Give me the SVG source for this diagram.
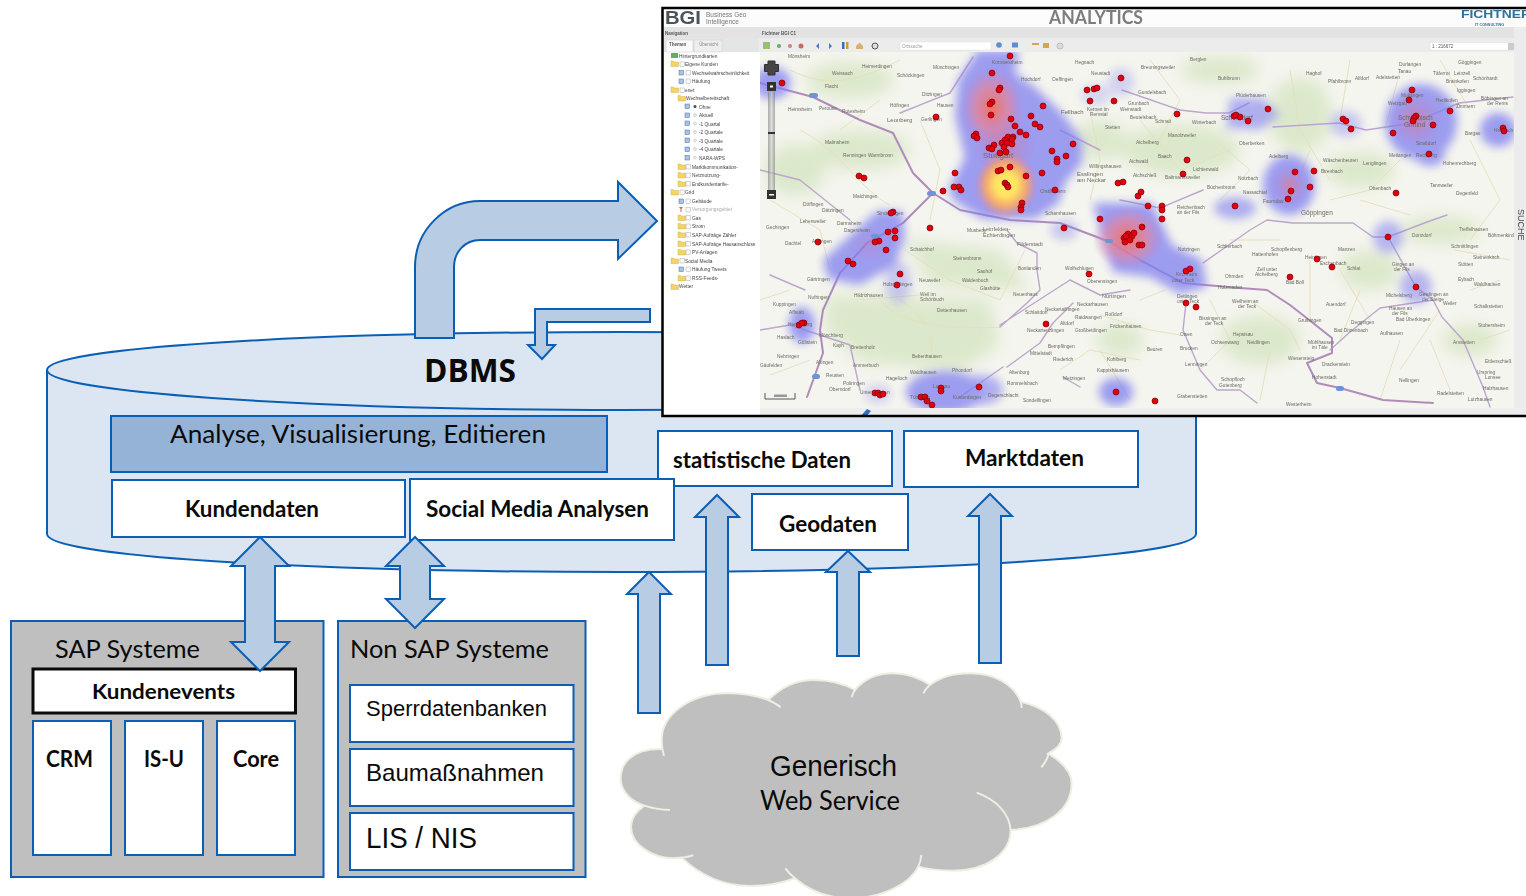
<svg xmlns="http://www.w3.org/2000/svg" xmlns:xlink="http://www.w3.org/1999/xlink" width="1526" height="896" viewBox="0 0 1526 896">
<style>
.box{fill:#fff;stroke:#0a5fb4;stroke-width:2}
.sys{fill:#bfbfbf;stroke:#0a5fb4;stroke-width:2}
.arrow{fill:#b8cce4;stroke:#0a5fb4;stroke-width:2;stroke-linejoin:miter}
.cal{font-family:Lato,"Open Sans",sans-serif;fill:#0a0a0a}
.b{font-weight:700}
.ar{font-family:"Liberation Sans",Arial,sans-serif;fill:#0a0a0a}
.t{font-family:"Liberation Sans",Arial,sans-serif;font-size:4.8px;fill:#444}
.p{font-family:"Liberation Sans",Arial,sans-serif;font-size:4.8px;fill:#6a6a62}
.ui{font-family:"Liberation Sans",Arial,sans-serif;fill:#555}
.road{fill:none;stroke:#bca6cc;stroke-width:1.400;stroke-linecap:round;stroke-linejoin:round}
.mr{fill:none;stroke:#b08cba;stroke-width:2;stroke-linecap:round;stroke-linejoin:round}
.tan{fill:none;stroke:#e6deba;stroke-width:.9}
.dots circle{fill:#e2000f;stroke:#7a0010;stroke-width:.7}
.bl{fill:#7f7ff0}
.cl{fill:none;stroke:#efeee3;stroke-width:6}
</style>
<defs>
<clipPath id="mapclip"><rect x="760" y="52" width="754" height="356"/></clipPath>
<clipPath id="shot"><rect x="662" y="8" width="864" height="408"/></clipPath>
<filter id="b5" x="700" y="0" width="850" height="450" filterUnits="userSpaceOnUse"><feGaussianBlur stdDeviation="5"/></filter>
<filter id="b10" x="700" y="0" width="850" height="450" filterUnits="userSpaceOnUse"><feGaussianBlur stdDeviation="8"/></filter>
<filter id="soft" x="660" y="0" width="880" height="430" filterUnits="userSpaceOnUse"><feGaussianBlur stdDeviation="0.35"/></filter>
<radialGradient id="red"><stop offset="0" stop-color="#ff6a4a" stop-opacity=".85"/><stop offset=".55" stop-color="#f08090" stop-opacity=".6"/><stop offset="1" stop-color="#c080c8" stop-opacity="0"/></radialGradient>
<radialGradient id="pink"><stop offset="0" stop-color="#e07a90" stop-opacity=".7"/><stop offset="1" stop-color="#b080d0" stop-opacity="0"/></radialGradient>
<radialGradient id="hot"><stop offset="0" stop-color="#fff36a"/><stop offset=".35" stop-color="#ffe060"/><stop offset=".65" stop-color="#ffa860" stop-opacity=".85"/><stop offset="1" stop-color="#e08098" stop-opacity="0"/></radialGradient>
<linearGradient id="bar" x1="0" y1="0" x2="1" y2="0"><stop offset="0" stop-color="#777"/><stop offset=".5" stop-color="#ccc"/><stop offset="1" stop-color="#777"/></linearGradient>
<g id="fo"><path d="M0 1h2.500l1 1h4v4.500h-7.500z" fill="#f2d469" stroke="#c9a83c" stroke-width=".4"/></g>
<g id="cb"><rect width="4.500" height="4.500" fill="#fafafa" stroke="#999" stroke-width=".4"/></g>
<g id="ic"><rect width="4.500" height="4.500" fill="#a9c2e6" stroke="#4a6fa8" stroke-width=".5"/></g>
</defs>

<g id="dbms">
<path d="M47 370C47 348 304 332 621 332S1196 348 1196 370V534C1196 556 940 572 621 572S47 556 47 534Z" fill="#dce6f2" stroke="#0a5fb4" stroke-width="2"/>
<path d="M47 370C47 392 304 410 621 410S1196 392 1196 370" fill="none" stroke="#0a5fb4" stroke-width="2"/>
<text class="ar b" x="424" y="382" font-size="33" style="font-family:'Open Sans',sans-serif" textLength="92" lengthAdjust="spacingAndGlyphs">DBMS</text>
</g>

<g id="analyse"><rect x="111" y="416" width="496" height="56" fill="#95b3d7" stroke="#0a5fb4" stroke-width="2"/><text class="cal" x="170" y="443" font-size="25" textLength="376" lengthAdjust="spacingAndGlyphs">Analyse, Visualisierung, Editieren</text></g>
<g id="statistische-daten"><rect class="box" x="658" y="431" width="234" height="55"/><text class="cal b" x="673" y="468" font-size="22" textLength="178" lengthAdjust="spacingAndGlyphs">statistische Daten</text></g>
<g id="kundendaten"><rect class="box" x="112" y="480" width="293" height="57"/><text class="cal b" x="185" y="517" font-size="22" textLength="134" lengthAdjust="spacingAndGlyphs">Kundendaten</text></g>
<g id="social-media"><rect class="box" x="410" y="479" width="264" height="61"/><text class="cal b" x="426" y="517" font-size="22" textLength="223" lengthAdjust="spacingAndGlyphs">Social Media Analysen</text></g>
<g id="marktdaten"><rect class="box" x="904" y="431" width="234" height="56"/><text class="cal b" x="965" y="466" font-size="22" textLength="119" lengthAdjust="spacingAndGlyphs">Marktdaten</text></g>
<g id="geodaten"><rect class="box" x="752" y="494" width="156" height="56"/><text class="cal b" x="779" y="532" font-size="22" textLength="98" lengthAdjust="spacingAndGlyphs">Geodaten</text></g>

<g id="sap-systeme"><rect class="sys" x="11" y="621" width="312.500" height="256"/><text class="cal" x="55" y="658" font-size="25" textLength="145" lengthAdjust="spacingAndGlyphs">SAP Systeme</text></g>
<g id="kundenevents"><rect x="33" y="669" width="262.500" height="44" fill="#fff" stroke="#0a0a0a" stroke-width="3"/><text class="cal b" x="92" y="699" font-size="21" textLength="143" lengthAdjust="spacingAndGlyphs">Kundenevents</text></g>
<g id="crm"><rect class="box" x="33" y="721" width="78" height="134"/><text class="cal b" x="46" y="767" font-size="22" textLength="47" lengthAdjust="spacingAndGlyphs">CRM</text></g>
<g id="is-u"><rect class="box" x="125" y="721" width="78" height="134"/><text class="cal b" x="144" y="767" font-size="22" textLength="40" lengthAdjust="spacingAndGlyphs">IS-U</text></g>
<g id="core"><rect class="box" x="217" y="721" width="78" height="134"/><text class="cal b" x="233" y="767" font-size="22" textLength="46" lengthAdjust="spacingAndGlyphs">Core</text></g>

<g id="non-sap-systeme"><rect class="sys" x="338" y="621" width="247.500" height="256"/><text class="cal" x="350" y="658" font-size="25" textLength="199" lengthAdjust="spacingAndGlyphs">Non SAP Systeme</text></g>
<g id="sperrdatenbanken"><rect class="box" x="350" y="685" width="223.500" height="57"/><text class="ar" x="366" y="716" font-size="22.500" textLength="181" lengthAdjust="spacingAndGlyphs">Sperrdatenbanken</text></g>
<g id="baumassnahmen"><rect class="box" x="350" y="749" width="223.500" height="57"/><text class="ar" x="366" y="781" font-size="24" textLength="178" lengthAdjust="spacingAndGlyphs">Baumaßnahmen</text></g>
<g id="lis-nis"><rect class="box" x="350" y="813" width="223.500" height="57"/><text class="ar" x="366" y="848" font-size="29" textLength="111" lengthAdjust="spacingAndGlyphs">LIS / NIS</text></g>

<g id="generisch-web-service">
<g transform="translate(600 640) scale(.3333)">
<path d="M187 327C90 325 62 375 62 415C62 455 95 485 133 497C100 520 93 540 93 560C93 615 160 655 220 655L245 653C300 705 370 738 450 738C500 738 545 730 585 715C625 750 680 775 750 775C850 775 930 730 955 680C985 688 1020 692 1060 692C1160 692 1232 640 1232 570C1340 565 1415 510 1415 430C1415 395 1385 365 1345 340C1375 325 1385 310 1385 295C1385 240 1330 200 1262 185C1240 130 1180 100 1110 100C1060 100 1020 112 990 135C955 112 920 100 880 100C830 100 790 120 765 150C730 130 690 120 640 120C585 120 540 145 505 180C465 165 425 160 380 160C270 160 185 225 185 300Z" fill="#bfbfbf" stroke="#efeee3" stroke-width="6"/>
<path class="cl" d="M133 497C158 505 185 510 210 510M245 653C255 652 268 650 280 646M585 715C575 707 565 697 556 685M955 680C960 670 963 658 964 645M1232 570C1228 520 1190 480 1130 458M1345 340C1345 350 1338 365 1324 382M1262 185C1264 190 1265 197 1265 204M990 135C980 142 975 150 970 160M765 150C760 157 757 165 755 172M505 180C520 187 532 193 542 202M187 327L192 347"/>
</g>
<text class="ar" x="770" y="776" font-size="29" textLength="127" lengthAdjust="spacingAndGlyphs">Generisch</text>
<text class="cal" x="760" y="810" font-size="26" textLength="140" lengthAdjust="spacingAndGlyphs">Web Service</text>
</g>

<g id="analytics-screenshot" clip-path="url(#shot)">
<rect x="662" y="8" width="866" height="408" fill="#fff"/>
<g filter="url(#soft)">
<rect x="664" y="9" width="862" height="18" fill="#fbfcfb"/>
<rect x="664" y="27" width="862" height="11" fill="#e2e3e2"/>
<rect x="759" y="38" width="767" height="14" fill="#ececec"/>
<rect x="664" y="38" width="95" height="14" fill="#e4e6e6"/>
<rect x="666" y="40" width="27" height="12" fill="#fafafa" stroke="#ccc" stroke-width=".5"/>
<rect x="694" y="40" width="28" height="12" fill="#eee" stroke="#ccc" stroke-width=".5"/>
<rect x="1514" y="27" width="12" height="381" fill="#ececec"/>
<rect x="760" y="408" width="766" height="7" fill="#ededed"/>
<rect x="664" y="408" width="96" height="7" fill="#fff"/>

<text class="ui" x="665" y="24" font-size="19" font-weight="700" textLength="36" lengthAdjust="spacingAndGlyphs" style="fill:#4c5358">BGI</text>
<text class="ui" x="706" y="17" font-size="6.500" style="fill:#777">Business Geo</text>
<text class="ui" x="706" y="24" font-size="6.500" style="fill:#777">Intelligence</text>
<text class="ui" x="1049" y="24" font-size="18" font-weight="700" textLength="94" lengthAdjust="spacingAndGlyphs" style="fill:#7d7d7d;font-family:Lato,sans-serif">ANALYTICS</text>
<text class="ui" x="1461" y="18" font-size="11" font-weight="700" textLength="70" lengthAdjust="spacingAndGlyphs" style="fill:#2f7299">FICHTNER</text>
<text class="ui" x="1475" y="26" font-size="3.800" font-weight="700" style="fill:#2f7299">IT CONSULTING</text>
<text class="ui" x="665" y="35" font-size="4.500" font-weight="700">Navigation</text>
<text class="ui" x="762" y="35" font-size="4.500" font-weight="700">Fichtner BGI C1</text>
<text class="ui" x="669" y="46" font-size="4.500" font-weight="700">Themen</text>
<text class="ui" x="699" y="46" font-size="4.500" style="fill:#888">Übersicht</text>
<rect x="900" y="42" width="91" height="8" fill="#fff" stroke="#ddd" stroke-width=".5"/>
<text class="ui" x="902" y="48" font-size="4.500" style="fill:#999">Ortssuche</text>
<rect x="1430" y="42.500" width="84" height="7.500" fill="#fff" stroke="#ddd" stroke-width=".5"/>
<text class="ui" x="1432" y="48" font-size="4.500">1 : 216672</text>
<rect x="1508" y="43" width="6" height="7" fill="#ccc"/>
<g id="toolbar">
<rect x="763" y="42" width="7" height="7" fill="#9ac06a"/><circle cx="779" cy="46" r="2" fill="#6aa86a"/><circle cx="790" cy="46" r="2" fill="#d08080"/><circle cx="801" cy="46" r="2.500" fill="#c86a6a"/>
<path d="M816 46l3-3v6zM829 43l3 3-3 3z" fill="#4a7ac8"/>
<rect x="842" y="42" width="2.500" height="7" fill="#3a70b8"/><rect x="846" y="42" width="2.500" height="7" fill="#d0a020"/>
<path d="M856 46l3.500-3.500 3.500 3.500v3h-7z" fill="#d8b070"/><circle cx="875" cy="46" r="3" fill="#ddd" stroke="#555"/>
<circle cx="999" cy="45" r="2.800" fill="#5a90d0"/><rect x="1012" y="42.500" width="6" height="5" fill="#5a90d0"/><path d="M1032 43h7v2h-7zM1043 43h6v5h-6z" fill="#e0a050"/><circle cx="1060" cy="46" r="3" fill="#ddd" stroke="#999" stroke-width=".5"/>
</g>

<g id="tree">
<text class="t" x="679" y="58">Hintergrundkarten</text>
<text class="t" x="685" y="66">Eigene Kunden</text>
<text class="t" x="692" y="75">Wechselwahrscheinlichkeit</text>
<text class="t" x="692" y="83">Häufung</text>
<text class="t" x="685" y="92">enet</text>
<text class="t" x="686" y="100">Wechselbereitschaft</text>
<text class="t" x="699" y="108.500">Ohne</text>
<text class="t" x="699" y="117">Aktuell</text>
<text class="t" x="699" y="125.500">-1 Quartal</text>
<text class="t" x="699" y="134">-2 Quartale</text>
<text class="t" x="699" y="142.500">-3 Quartale</text>
<text class="t" x="699" y="151">-4 Quartale</text>
<text class="t" x="699" y="159.500">NARA-WPS</text>
<text class="t" x="692" y="168.500">Marktkommunikation-</text>
<text class="t" x="692" y="177">Netznutzung-</text>
<text class="t" x="692" y="185.500">Endkundentarife-</text>
<text class="t" x="685" y="194">Grid</text>
<text class="t" x="692" y="203">Gebäude</text>
<text class="t" x="692" y="211" style="fill:#aaa">Versorgungsgebiet</text>
<text class="t" x="692" y="220">Gas</text>
<text class="t" x="692" y="228">Strom</text>
<text class="t" x="692" y="237">SAP-Aufträge Zähler</text>
<text class="t" x="692" y="245.500">SAP-Aufträge Hausanschluss</text>
<text class="t" x="692" y="254">PV-Anlagen</text>
<text class="t" x="685" y="263">Social Media</text>
<text class="t" x="692" y="271">Häufung Tweets</text>
<text class="t" x="692" y="280">RSS-Feeds-</text>
<text class="t" x="679" y="288">Wetter</text>
<rect x="671" y="53" width="7" height="5" fill="#6aa86a"/>
<use href="#fo" x="671" y="60"/><use href="#cb" x="680" y="62"/><use href="#ic" x="679" y="70.500"/><use href="#cb" x="686" y="70.500"/><use href="#ic" x="679" y="79"/><use href="#cb" x="686" y="79"/>
<use href="#fo" x="671" y="86"/><use href="#cb" x="680" y="88"/><use href="#fo" x="678" y="94.500"/>
<use href="#ic" x="685" y="104"/><use href="#ic" x="685" y="113"/><use href="#ic" x="685" y="121"/><use href="#ic" x="685" y="130"/><use href="#ic" x="685" y="138"/><use href="#ic" x="685" y="147"/><use href="#ic" x="685" y="155.500"/>
<circle cx="695" cy="106.500" r="1.500" fill="#446"/><circle cx="695" cy="115" r="1.500" fill="#eee" stroke="#aaa" stroke-width=".4"/><circle cx="695" cy="123.500" r="1.500" fill="#eee" stroke="#aaa" stroke-width=".4"/><circle cx="695" cy="132" r="1.500" fill="#eee" stroke="#aaa" stroke-width=".4"/><circle cx="695" cy="140.500" r="1.500" fill="#eee" stroke="#aaa" stroke-width=".4"/><circle cx="695" cy="149" r="1.500" fill="#eee" stroke="#aaa" stroke-width=".4"/><circle cx="695" cy="157.500" r="1.500" fill="#eee" stroke="#aaa" stroke-width=".4"/>
<use href="#fo" x="678" y="163"/><use href="#cb" x="686" y="164.500"/><use href="#fo" x="678" y="171.500"/><use href="#cb" x="686" y="173"/><use href="#fo" x="678" y="180"/><use href="#cb" x="686" y="181.500"/>
<use href="#fo" x="671" y="188.500"/><use href="#cb" x="680" y="190"/><use href="#ic" x="679" y="199"/><use href="#cb" x="686" y="199"/><path d="M679 207h4l-1.500 2v3h-1v-3z" fill="#c86a6a"/><use href="#cb" x="686" y="207.500"/>
<use href="#fo" x="678" y="214"/><use href="#cb" x="686" y="215.500"/><use href="#fo" x="678" y="222.500"/><use href="#cb" x="686" y="224"/><use href="#fo" x="678" y="231"/><use href="#cb" x="686" y="232.500"/><use href="#fo" x="678" y="240"/><use href="#cb" x="686" y="241.500"/><use href="#fo" x="678" y="248.500"/><use href="#cb" x="686" y="250"/>
<use href="#fo" x="671" y="257"/><use href="#cb" x="680" y="258.500"/><use href="#ic" x="679" y="267"/><use href="#cb" x="686" y="267"/><use href="#fo" x="678" y="274.500"/><use href="#cb" x="686" y="276"/><use href="#fo" x="671" y="283"/>
</g>

<g id="map" clip-path="url(#mapclip)">
<rect x="760" y="52" width="754" height="356" fill="#f5f5ef"/>
<g filter="url(#b10)" fill="#dce8cb">
<path d="M825 295L990 300L1000 345L960 372L860 362L825 330Z"/>
<path d="M905 240L1000 250L1030 290L930 285Z"/><ellipse cx="860" cy="150" rx="50" ry="20"/><ellipse cx="795" cy="170" rx="30" ry="26"/><ellipse cx="1180" cy="150" rx="60" ry="26"/><ellipse cx="1300" cy="115" rx="32" ry="38"/><ellipse cx="1360" cy="170" rx="35" ry="18"/><ellipse cx="1260" cy="340" rx="40" ry="25"/><ellipse cx="1370" cy="270" rx="30" ry="20"/><ellipse cx="1120" cy="340" rx="24" ry="16"/><ellipse cx="1470" cy="340" rx="28" ry="16"/>
<ellipse cx="1440" cy="230" rx="40" ry="14"/><ellipse cx="1100" cy="140" rx="26" ry="20"/><ellipse cx="850" cy="80" rx="44" ry="18"/><ellipse cx="1220" cy="70" rx="40" ry="14"/>
</g>
<path class="tan" d="M790 70C830 90 860 80 900 60M800 130C840 150 860 190 890 205M770 200L820 230L830 270M920 120L940 170L930 220M905 250L950 280L1000 300L1025 250M1000 327C950 330 900 325 880 300M1090 110L1100 160L1090 200M1140 120L1180 170L1230 150M1290 70L1300 130L1330 180M1350 60L1340 120M1400 70L1385 130M1440 60L1470 110M1310 150L1290 200M1210 300L1230 340L1200 370M1250 300L1290 330L1300 350M1310 260L1310 320M1340 270L1370 320M1400 340L1380 400M1440 310L1400 370M1470 290L1500 280M860 300L920 295M900 300C930 320 935 340 930 360M1100 315L1150 330L1180 335M1060 370L1090 350L1140 360M1455 250L1510 260M1480 340L1510 330M1360 200L1410 215M1140 300L1165 290M1150 60L1180 100L1160 140M1215 140L1250 170L1220 200M1330 200L1370 190L1400 160M1470 140L1500 200L1470 240M1230 240L1280 240M1360 290L1340 340M1100 350L1130 400M1270 350L1260 400M1430 340L1450 390M840 130L880 100M790 290L760 300M770 375L810 360"/>
<path class="road" d="M900 113L950 93L973 57M1007 230L1017 243L1037 253L1037 270L1040 290L1027 303L1000 327M1003 367L960 397M1073 303L1053 323L1040 343L1007 367M1063 377L1080 387M1122 90L1180 110L1206 113L1229 113L1249 103M1273 127L1339 123L1366 130L1413 123L1459 103L1513 97M1203 263L1250 230L1267 220L1293 223L1353 223L1373 237L1388 237L1427 222L1447 215M1388 237L1416 287L1433 300M1186 303L1183 330L1200 370L1217 390L1240 390L1257 403M1060 130L1100 150M1330 350L1350 332L1380 308L1433 300L1442 317L1463 340L1483 387L1490 407M1120 200L1160 208L1203 190M850 220L800 180L760 170M760 330L790 325L820 335L850 345L860 390M770 275L805 290M1000 325L1070 280L1100 295L1130 290"/>
<path class="mr" d="M760 83L813 97L860 120L893 133L913 173L933 193L960 210L1010 220L1060 223L1110 242L1140 260L1183 283L1240 288L1267 290L1290 305L1313 323L1332 338L1332 353L1307 363L1317 383L1340 388L1383 400L1433 403M933 193L903 223L867 243L840 273L823 310L820 330L823 353L807 397"/>
<g filter="url(#b5)" opacity=".75">
<path class="bl" d="M978 50L1019 50L1015 73L1035 87L1062 113L1082 140L1082 163L1065 183L1059 203L1035 219L983 219L955 202L948 190L965 157L955 117L958 80Z"/>
<path class="bl" d="M823 260L877 211L902 211L905 237L895 265L860 285L828 279Z"/>
<ellipse class="bl" cx="772" cy="83" rx="19" ry="16"/>
<ellipse class="bl" cx="898" cy="282" rx="13" ry="21" opacity=".5"/>
<ellipse class="bl" cx="802" cy="325" rx="13" ry="18"/>
<ellipse class="bl" cx="878" cy="394" rx="13" ry="10" opacity=".4"/>
<ellipse class="bl" cx="945" cy="392" rx="39" ry="21"/><ellipse class="bl" cx="982" cy="390" rx="21" ry="15" opacity=".8"/>
<ellipse class="bl" cx="1116" cy="392" rx="17" ry="14"/>
<path class="bl" d="M1093 203L1152 203L1172 245L1202 260L1207 287L1180 294L1150 277L1113 272Z"/>
<ellipse class="bl" cx="1388" cy="237" rx="15" ry="16" opacity=".7"/><ellipse class="bl" cx="1416" cy="287" rx="16" ry="17" opacity=".7"/>
<path class="bl" d="M1230 98L1262 98L1280 115L1260 130L1226 128Z" opacity=".8"/>
<ellipse class="bl" cx="1346" cy="124" rx="16" ry="13" opacity=".5"/>
<ellipse class="bl" cx="1421" cy="122" rx="36" ry="38"/><ellipse class="bl" cx="1430" cy="155" rx="15" ry="11"/>
<ellipse class="bl" cx="1289" cy="185" rx="26" ry="30"/>
<ellipse class="bl" cx="1235" cy="208" rx="21" ry="11" opacity=".8"/>
<ellipse class="bl" cx="1498" cy="130" rx="18" ry="17"/>
<ellipse class="bl" cx="1064" cy="230" rx="14" ry="10" opacity=".5"/>
<ellipse class="bl" cx="1121" cy="82" rx="13" ry="14" opacity=".4"/>
<ellipse class="bl" cx="1096" cy="95" rx="15" ry="11" opacity=".35"/>
</g>
<ellipse cx="992" cy="108" rx="32" ry="42" fill="url(#red)"/>
<ellipse cx="1005" cy="145" rx="32" ry="30" fill="url(#pink)"/>
<ellipse cx="1006" cy="185" rx="32" ry="34" fill="url(#hot)"/>
<ellipse cx="1128" cy="238" rx="36" ry="32" fill="url(#red)"/>
<ellipse cx="1416" cy="120" rx="27" ry="27" fill="url(#pink)"/>
<ellipse cx="1290" cy="185" rx="19" ry="21" fill="url(#pink)"/>
<ellipse cx="870" cy="245" rx="22" ry="18" fill="url(#pink)" opacity=".4"/>

<g id="places">
<text class="p" x="788" y="58">Mönsheim</text><text class="p" x="862" y="68">Heimerdingen</text><text class="p" x="832" y="75">Weissach</text><text class="p" x="897" y="77">Schöckingen</text><text class="p" x="825" y="88">Flacht</text><text class="p" x="922" y="96">Ditzingen</text><text class="p" x="890" y="107">Höfingen</text><text class="p" x="937" y="107">Hausen</text><text class="p" x="788" y="111">Heimsheim</text><text class="p" x="819" y="110">Perouse</text><text class="p" x="842" y="113">Rutesheim</text><text class="p" x="887" y="122" style="font-size:6px">Leonberg</text><text class="p" x="921" y="121">Gerlingen</text><text class="p" x="868" y="157">Warmbronn</text><text class="p" x="843" y="157">Renningen</text><text class="p" x="825" y="144">Malmsheim</text><text class="p" x="853" y="198">Maichingen</text><text class="p" x="877" y="215">Sindelfingen</text><text class="p" x="803" y="206">Döffingen</text><text class="p" x="822" y="212">Dätzingen</text><text class="p" x="800" y="223">Lehenweiler</text><text class="p" x="766" y="229">Gechingen</text><text class="p" x="837" y="225">Darmsheim</text><text class="p" x="844" y="232">Dagersheim</text><text class="p" x="785" y="245">Dachtel</text><text class="p" x="812" y="243">Aidlingen</text><text class="p" x="807" y="281">Gärtringen</text><text class="p" x="808" y="299">Nufringen</text><text class="p" x="854" y="297">Hildrizhausen</text><text class="p" x="883" y="286">Holzgerlingen</text>
<text class="p" x="992" y="64">Kornwestheim</text><text class="p" x="1021" y="81">Hochdorf</text><text class="p" x="1052" y="81">Oeffingen</text><text class="p" x="933" y="69">Münchingen</text><text class="p" x="1061" y="114" style="font-size:6px">Fellbach</text><text class="p" x="1087" y="111">Kernen im</text><text class="p" x="1090" y="116">Remstal</text><text class="p" x="1120" y="111">Weinstadt</text><text class="p" x="1128" y="105">Grunbach</text><text class="p" x="1130" y="119">Beutelsbach</text><text class="p" x="1155" y="123">Schnait</text><text class="p" x="1168" y="137">Manolzweiler</text><text class="p" x="1136" y="144">Aichelberg</text><text class="p" x="1158" y="158">Baach</text><text class="p" x="1129" y="163">Aichwald</text><text class="p" x="1077" y="176" style="font-size:6px">Esslingen</text><text class="p" x="1077" y="182" style="font-size:6px">am Neckar</text><text class="p" x="1089" y="168">Wilfingshausen</text><text class="p" x="1133" y="177">Aichschieß</text><text class="p" x="1165" y="179">Baltmannsweiler</text><text class="p" x="1193" y="171">Lichtenwald</text><text class="p" x="1040" y="193" style="font-size:6px">Ostfildern</text><text class="p" x="983" y="158" style="font-size:8px">Stuttgart</text><text class="p" x="1045" y="215">Scharnhausen</text><text class="p" x="1177" y="209">Reichenbach</text><text class="p" x="1177" y="214">an der Fils</text><text class="p" x="1105" y="129">Stetten</text><text class="p" x="1236" y="97">Plüderhausen</text><text class="p" x="1221" y="120" style="font-size:6.500px">Schorndorf</text><text class="p" x="1192" y="124">Winterbach</text><text class="p" x="1218" y="80">Buhlbronn</text><text class="p" x="1190" y="61">Berglen</text><text class="p" x="1138" y="94">Gundelsbach</text><text class="p" x="1141" y="69">Breuningsweiler</text><text class="p" x="1075" y="64">Hegnach</text><text class="p" x="1091" y="75">Neustadt</text>
<text class="p" x="1306" y="75">Haghof</text><text class="p" x="1328" y="83">Pfahlbronn</text><text class="p" x="1355" y="80">Alfdorf</text><text class="p" x="1376" y="79">Adelstetten</text><text class="p" x="1399" y="66">Durlangen</text><text class="p" x="1398" y="73">Tanau</text><text class="p" x="1458" y="64">Göggingen</text><text class="p" x="1433" y="75">Täferrot</text><text class="p" x="1454" y="75">Leinzell</text><text class="p" x="1446" y="83">Brainkofen</text><text class="p" x="1457" y="92">Iggingen</text><text class="p" x="1473" y="80">Schönhardt</text><text class="p" x="1481" y="100">Böbingen an</text><text class="p" x="1487" y="105">der Rems</text><text class="p" x="1401" y="97">Mutlangen</text><text class="p" x="1388" y="105">Wetzgau</text><text class="p" x="1398" y="120" style="font-size:6.500px">Schwäbisch</text><text class="p" x="1404" y="127" style="font-size:6.500px">Gmünd</text><text class="p" x="1436" y="102">Herlikofen</text><text class="p" x="1456" y="108">Zimmern</text><text class="p" x="1465" y="135">Bargau</text><text class="p" x="1494" y="132">Heubach</text><text class="p" x="1416" y="145">Straßdorf</text><text class="p" x="1389" y="157">Metlangen</text><text class="p" x="1416" y="157">Rechberg</text><text class="p" x="1443" y="165">Hohenrechberg</text><text class="p" x="1430" y="187">Tannweiler</text><text class="p" x="1456" y="195">Degenfeld</text><text class="p" x="1323" y="162">Wäschenbeuren</text><text class="p" x="1363" y="165">Lenglingen</text><text class="p" x="1321" y="173">Birenbach</text><text class="p" x="1301" y="215" style="font-size:6.500px">Göppingen</text><text class="p" x="1369" y="190">Ottenbach</text><text class="p" x="1263" y="203">Faurndau</text><text class="p" x="1239" y="145">Oberberken</text><text class="p" x="1269" y="158">Adelberg</text><text class="p" x="1243" y="194">Nassachtal</text><text class="p" x="1207" y="189">Büchenbronn</text><text class="p" x="1238" y="180">Notzbach</text>
<text class="p" x="910" y="251">Schaichhof</text><text class="p" x="967" y="232">Musberg</text><text class="p" x="983" y="231" style="font-size:5.500px">Leinfelden-</text><text class="p" x="983" y="237" style="font-size:5.500px">Echterdingen</text><text class="p" x="1017" y="246" style="font-size:5.500px">Filderstadt</text><text class="p" x="1018" y="270">Bonlanden</text><text class="p" x="1065" y="270">Wolfschlugen</text><text class="p" x="1087" y="283">Oberensingen</text><text class="p" x="1102" y="298" style="font-size:5.500px">Nürtingen</text><text class="p" x="1077" y="306">Neckarhausen</text><text class="p" x="1045" y="311">Neckartailfingen</text><text class="p" x="1075" y="319">Raidwangen</text><text class="p" x="1105" y="316">Roßdorf</text><text class="p" x="1060" y="325">Altdorf</text><text class="p" x="1075" y="332">Großbettlingen</text><text class="p" x="1110" y="328">Frickenhausen</text><text class="p" x="1027" y="332">Neckartenzlingen</text><text class="p" x="1048" y="348">Bempflingen</text><text class="p" x="1053" y="361">Riederich</text><text class="p" x="1030" y="355">Mittelstadt</text><text class="p" x="1107" y="361">Kohlberg</text><text class="p" x="1097" y="372">Kappishäusern</text><text class="p" x="1063" y="380">Metzingen</text><text class="p" x="953" y="399">Kusterdingen</text><text class="p" x="988" y="397">Degerschlacht</text><text class="p" x="1009" y="374">Altenburg</text><text class="p" x="1007" y="385">Rommelsbach</text><text class="p" x="1023" y="402">Sondelfingen</text><text class="p" x="886" y="380">Hagelloch</text><text class="p" x="952" y="372">Pfrondorf</text><text class="p" x="910" y="374">Waldhausen</text><text class="p" x="933" y="388">Lustnau</text><text class="p" x="910" y="399">Tübingen</text><text class="p" x="860" y="394">Unterjesingen</text><text class="p" x="912" y="358">Bebenhausen</text><text class="p" x="833" y="347">Kayh</text><text class="p" x="773" y="306">Kuppingen</text><text class="p" x="789" y="314">Affstätt</text><text class="p" x="788" y="326">Herrenberg</text><text class="p" x="777" y="339">Haslach</text><text class="p" x="798" y="344">Gültstein</text><text class="p" x="819" y="337">Mönchberg</text><text class="p" x="843" y="385">Poltringen</text><text class="p" x="829" y="391">Oberndorf</text><text class="p" x="826" y="377">Reusten</text><text class="p" x="851" y="349">Breitenholz</text><text class="p" x="816" y="364">Altingen</text><text class="p" x="853" y="367">Ammerbuch</text><text class="p" x="777" y="358">Nebringen</text><text class="p" x="760" y="367">Gäufelden</text><text class="p" x="920" y="296">Weil im</text><text class="p" x="920" y="301">Schönbuch</text><text class="p" x="919" y="282">Neuweiler</text><text class="p" x="962" y="282">Waldenbuch</text><text class="p" x="980" y="290">Glashütte</text><text class="p" x="937" y="312">Dettenhausen</text><text class="p" x="1013" y="296">Neuenhaus</text><text class="p" x="1025" y="314">Schlaitdorf</text><text class="p" x="953" y="260">Steinenbronn</text><text class="p" x="977" y="273">Sauhof</text>
<text class="p" x="1176" y="276">Kirchheim</text><text class="p" x="1172" y="282">unter Teck</text><text class="p" x="1177" y="298">Dettingen</text><text class="p" x="1177" y="303">unter Teck</text><text class="p" x="1180" y="336">Owen</text><text class="p" x="1180" y="350">Brucken</text><text class="p" x="1199" y="320">Bissingen an</text><text class="p" x="1205" y="325">der Teck</text><text class="p" x="1178" y="251">Notzingen</text><text class="p" x="1217" y="248">Schlierbach</text><text class="p" x="1225" y="278">Ohmden</text><text class="p" x="1218" y="289">Holzmaden</text><text class="p" x="1232" y="303">Weilheim an</text><text class="p" x="1238" y="308">der Teck</text><text class="p" x="1257" y="271">Zell unter</text><text class="p" x="1255" y="276">Aichelberg</text><text class="p" x="1271" y="251">Schopflenberg</text><text class="p" x="1252" y="256">Hattenhofen</text><text class="p" x="1286" y="284">Bad Boll</text><text class="p" x="1305" y="259">Heiningen</text><text class="p" x="1320" y="265">Eschenbach</text><text class="p" x="1338" y="251">Manzen</text><text class="p" x="1347" y="270">Schlat</text><text class="p" x="1326" y="306">Auendorf</text><text class="p" x="1298" y="322">Gruibingen</text><text class="p" x="1233" y="336">Hepsisau</text><text class="p" x="1247" y="344">Neidlingen</text><text class="p" x="1211" y="344">Ochsenwang</text><text class="p" x="1308" y="344">Mühlhausen</text><text class="p" x="1312" y="349">im Täle</text><text class="p" x="1288" y="360">Wiesensteig</text><text class="p" x="1322" y="366">Drackenstein</text><text class="p" x="1312" y="379">Hohenstadt</text><text class="p" x="1286" y="406">Westerheim</text><text class="p" x="1351" y="324">Deggingen</text><text class="p" x="1334" y="332">Bad Ditzenbach</text><text class="p" x="1380" y="335">Aufhausen</text><text class="p" x="1389" y="310">Hausen an</text><text class="p" x="1392" y="315">der Fils</text><text class="p" x="1396" y="321">Bad Überkingen</text><text class="p" x="1419" y="296">Geislingen an</text><text class="p" x="1422" y="301">der Steige</text><text class="p" x="1392" y="266">Gingen an</text><text class="p" x="1394" y="271">der Fils</text><text class="p" x="1386" y="297">Michelsberg</text><text class="p" x="1412" y="237">Donzdorf</text><text class="p" x="1399" y="382">Nellingen</text><text class="p" x="1453" y="344">Amstetten</text><text class="p" x="1477" y="374">Urspring</text><text class="p" x="1485" y="379">Lonsee</text><text class="p" x="1451" y="248">Schnittlingen</text><text class="p" x="1458" y="266">Stötten</text><text class="p" x="1459" y="231">Treffelhausen</text><text class="p" x="1473" y="259">Steinenkirch</text><text class="p" x="1478" y="327">Stubersheim</text><text class="p" x="1488" y="237">Böhmenkirch</text><text class="p" x="1458" y="281">Eybach</text><text class="p" x="1474" y="286">Waldhausen</text><text class="p" x="1474" y="308">Schalkstetten</text><text class="p" x="1485" y="363">Ettlenschieß</text><text class="p" x="1483" y="390">Halzhausen</text><text class="p" x="1468" y="401">Luizhausen</text><text class="p" x="1437" y="395">Radelstetten</text><text class="p" x="1185" y="366">Lenningen</text><text class="p" x="1219" y="387">Gutenberg</text><text class="p" x="1221" y="381">Schopfloch</text><text class="p" x="1177" y="398">Grabenstetten</text><text class="p" x="1147" y="351">Beuren</text><text class="p" x="1443" y="305">Weiler</text>
</g>
<g fill="#6f93d8"><rect x="809" y="93" width="9" height="5" rx="2.500"/><rect x="927" y="191" width="9" height="5" rx="2.500"/><rect x="871" y="234" width="8" height="4" rx="2"/><rect x="1105" y="239" width="8" height="4" rx="2"/><rect x="812" y="374" width="8" height="5" rx="2.500"/><rect x="1336" y="386" width="8" height="5" rx="2.500"/></g>
</g>
<g id="map-controls">
<path d="M768 61h7v3.500h3.500v7h-3.500v3.500h-7v-3.500h-3.500v-7h3.500z" fill="#444" stroke="#333"/>
<rect x="767" y="82" width="9" height="9" fill="#333"/><rect x="768" y="92" width="7" height="104" fill="url(#bar)" opacity=".6"/><rect x="768" y="132" width="7" height="2" fill="#333"/><rect x="767" y="190" width="9" height="9" fill="#333"/><rect x="769" y="194" width="5" height="1.500" fill="#fff"/><rect x="770" y="85.500" width="3" height="2" fill="#fff"/>
<path d="M765 393v6h30v-6" fill="none" stroke="#555"/><rect x="774" y="394.500" width="13" height="2.500" fill="#999"/>
</g>
<text class="ui" transform="translate(1518 209) rotate(90)" font-size="9" style="fill:#444">SUCHE</text>
<path d="M860 417L867 409L871 411L866 417Z" fill="#2a6fc0"/>
</g>
<g class="dots" clip-path="url(#mapclip)" filter="url(#soft)">
<circle cx="782" cy="83" r="3"/><circle cx="936" cy="117" r="3"/><circle cx="859" cy="176" r="3"/><circle cx="864" cy="178" r="3"/><circle cx="955" cy="173" r="3"/><circle cx="943" cy="191" r="3"/><circle cx="954" cy="187" r="3"/><circle cx="959" cy="187" r="3"/><circle cx="961" cy="190" r="3"/><circle cx="893" cy="212" r="3"/><circle cx="891" cy="213" r="3"/><circle cx="930" cy="228" r="3"/><circle cx="895" cy="231" r="3"/><circle cx="888" cy="232" r="3"/><circle cx="895" cy="238" r="3"/><circle cx="879" cy="241" r="3"/><circle cx="875" cy="242" r="3"/><circle cx="886" cy="250" r="3"/><circle cx="818" cy="242" r="3"/><circle cx="848" cy="261" r="3"/><circle cx="853" cy="264" r="3"/><circle cx="900" cy="274" r="3"/><circle cx="897" cy="285" r="3"/>
<circle cx="1010" cy="56" r="3"/><circle cx="992" cy="73" r="3"/><circle cx="1000" cy="88" r="3"/><circle cx="999" cy="90" r="3"/><circle cx="992" cy="102" r="3"/><circle cx="990" cy="104" r="3"/><circle cx="991" cy="115" r="3"/><circle cx="1043" cy="106" r="3"/><circle cx="1011" cy="119" r="3"/><circle cx="1031" cy="116" r="3"/><circle cx="1035" cy="124" r="3"/><circle cx="1040" cy="127" r="3"/><circle cx="1015" cy="126" r="3"/><circle cx="1020" cy="132" r="3"/><circle cx="1026" cy="135" r="3"/><circle cx="976" cy="134" r="3"/><circle cx="974" cy="136" r="3"/><circle cx="977" cy="138" r="3"/><circle cx="1013" cy="137" r="3"/><circle cx="1008" cy="137" r="3"/><circle cx="1005" cy="140" r="3"/><circle cx="1002" cy="143" r="3"/><circle cx="1007" cy="143" r="3"/><circle cx="1004" cy="147" r="3"/><circle cx="1012" cy="144" r="3"/><circle cx="1012" cy="139" r="3"/><circle cx="994" cy="145" r="3"/><circle cx="989" cy="148" r="3"/><circle cx="992" cy="149" r="3"/><circle cx="1000" cy="153" r="3"/><circle cx="1006" cy="152" r="3"/><circle cx="1073" cy="144" r="3"/><circle cx="1052" cy="151" r="3"/><circle cx="1066" cy="156" r="3"/><circle cx="1057" cy="159" r="3"/><circle cx="1057" cy="162" r="3"/><circle cx="1010" cy="167" r="3"/><circle cx="998" cy="171" r="3"/><circle cx="1001" cy="170" r="3"/><circle cx="1026" cy="176" r="3"/><circle cx="1042" cy="173" r="3"/><circle cx="1005" cy="183" r="3"/><circle cx="1007" cy="185" r="3"/><circle cx="1008" cy="187" r="3"/><circle cx="1055" cy="190" r="3"/><circle cx="1022" cy="203" r="3"/><circle cx="1021" cy="207" r="3"/><circle cx="1021" cy="210" r="3"/>
<circle cx="1121" cy="78" r="3"/><circle cx="1087" cy="90" r="3"/><circle cx="1094" cy="89" r="3"/><circle cx="1097" cy="88" r="3"/><circle cx="1090" cy="101" r="3"/><circle cx="1114" cy="101" r="3"/><circle cx="1177" cy="114" r="3"/><circle cx="1187" cy="160" r="3"/><circle cx="1183" cy="174" r="3"/><circle cx="1118" cy="183" r="3"/><circle cx="1123" cy="182" r="3"/><circle cx="1138" cy="196" r="3"/><circle cx="1141" cy="192" r="3"/><circle cx="1148" cy="206" r="3"/><circle cx="1162" cy="206" r="3"/><circle cx="1162" cy="210" r="3"/><circle cx="1100" cy="219" r="3"/><circle cx="1162" cy="219" r="3"/>
<circle cx="1268" cy="109" r="3"/><circle cx="1234" cy="116" r="3"/><circle cx="1236" cy="115" r="3"/><circle cx="1240" cy="117" r="3"/><circle cx="1248" cy="121" r="3"/><circle cx="1343" cy="119" r="3"/><circle cx="1346" cy="121" r="3"/><circle cx="1351" cy="129" r="3"/><circle cx="1393" cy="133" r="3"/><circle cx="1412" cy="90" r="3"/><circle cx="1409" cy="100" r="3"/><circle cx="1416" cy="116" r="3"/><circle cx="1414" cy="118" r="3"/><circle cx="1413" cy="121" r="3"/><circle cx="1433" cy="125" r="3"/><circle cx="1450" cy="111" r="3"/><circle cx="1429" cy="154" r="3"/><circle cx="1503" cy="128" r="3"/><circle cx="1504" cy="131" r="3"/><circle cx="1295" cy="172" r="3"/><circle cx="1314" cy="171" r="3"/><circle cx="1310" cy="187" r="3"/><circle cx="1291" cy="191" r="3"/><circle cx="1288" cy="199" r="3"/><circle cx="1235" cy="206" r="3"/><circle cx="1396" cy="193" r="3"/>
<circle cx="1064" cy="228" r="3"/><circle cx="1124" cy="238" r="3"/><circle cx="1128" cy="234" r="3"/><circle cx="1132" cy="236" r="3"/><circle cx="1130" cy="240" r="3"/><circle cx="1126" cy="236" r="3"/><circle cx="1134" cy="233" r="3"/><circle cx="1125" cy="242" r="3"/><circle cx="1139" cy="245" r="3"/><circle cx="1089" cy="274" r="3"/><circle cx="1046" cy="324" r="3"/><circle cx="799" cy="325" r="3"/><circle cx="804" cy="323" r="3"/><circle cx="802" cy="323" r="3"/><circle cx="875" cy="393" r="3"/><circle cx="878" cy="393" r="3"/><circle cx="880" cy="395" r="3"/><circle cx="883" cy="394" r="3"/><circle cx="941" cy="388" r="3"/><circle cx="941" cy="391" r="3"/><circle cx="921" cy="397" r="3"/><circle cx="925" cy="397" r="3"/><circle cx="927" cy="401" r="3"/><circle cx="932" cy="405" r="3"/><circle cx="979" cy="387" r="3"/><circle cx="1116" cy="392" r="3"/><circle cx="1142" cy="227" r="3"/><circle cx="1142" cy="245" r="3"/><circle cx="1186" cy="271" r="3"/><circle cx="1190" cy="269" r="3"/><circle cx="1186" cy="303" r="3"/><circle cx="1196" cy="307" r="3"/><circle cx="1290" cy="277" r="3"/><circle cx="1317" cy="259" r="3"/><circle cx="1332" cy="267" r="3"/><circle cx="1388" cy="237" r="3"/><circle cx="1416" cy="287" r="3"/><circle cx="1155" cy="401" r="3"/>
</g>
</g>
<rect x="662.500" y="8" width="880" height="408" fill="none" stroke="#000" stroke-width="2.500"/>

<g id="connectors">
<path class="arrow" d="M415 338V267C415 230 445 201 480 201H618V182L657 221L618 259V240H480C465 240 454 252 454 267V338Z"/>
<path class="arrow" d="M535 309H650V322H547V345H555L542 359L528 345H535Z"/>
<path class="arrow" d="M260 537L289 566H275V642H289L260 671L231 642H245V566H231Z"/>
<path class="arrow" d="M415 537L444 566H430V599H444L415 628L386 599H400V566H386Z"/>
<path class="arrow" d="M649 572L671 594H660V713H638V594H627Z"/>
<path class="arrow" d="M717 495L739 517H728V665H706V517H695Z"/>
<path class="arrow" d="M848 551L870 572H859V656H837V572H826Z"/>
<path class="arrow" d="M990 494L1012 516H1001V663H979V516H968Z"/>
</g>
</svg>
